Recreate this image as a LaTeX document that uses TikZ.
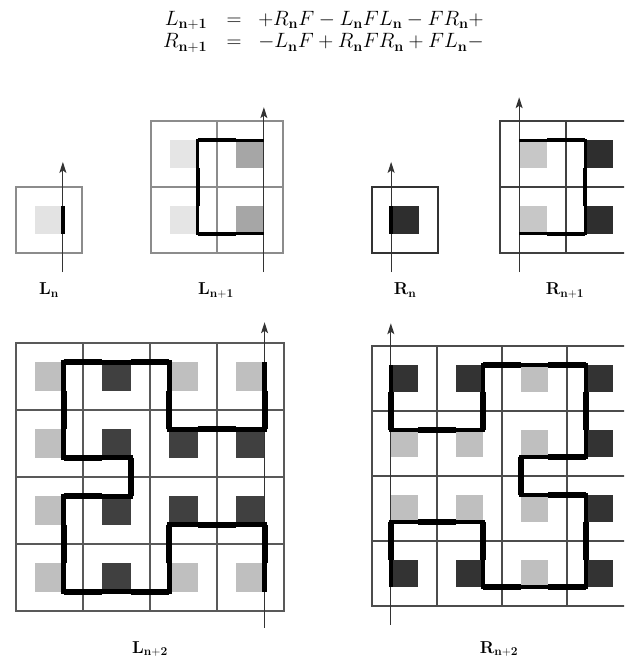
\documentclass[tikz,border=0pt]{standalone}
\usetikzlibrary{arrows.meta}
\tikzset{
  gridbox/.style={line width=1.1pt},
  dirarrow/.style={line width=1.1pt, draw=black!80, -{Stealth[length=11pt,width=7pt,inset=2.5pt]}},
  barln/.style={line width=4pt, line cap=butt},
  pthA/.style={line width=3pt, line join=miter, line cap=butt},
  pthAx/.style={line width=4.6pt, line cap=butt},
  pthB/.style={line width=4.6pt, line join=miter, line cap=butt},
  pthBx/.style={line width=6pt, line cap=butt},
  lbl/.style={font=\fontsize{17.28}{20}\selectfont, inner sep=0pt, anchor=base},
  eqn/.style={font=\fontsize{17.28}{16.7}\selectfont, inner sep=0pt, scale=1.2}
}
\newcommand\sqcell[3]{\fill[#3] ({#1+0.29},{#2+0.29}) rectangle ({#1+0.71},{#2+0.71});}
% one cell: #1 prefix, #2 square colour, #3 grid colour, #4 arrow top
\newcommand\diagOne[4]{%
  \sqcell{0}{0}{#2}
  \draw[gridbox,draw=#3] (0,0) rectangle (1,1);
  \coordinate (#1s) at (0.71,-0.29);
  \coordinate (#1e) at (0.71,#4);
  \draw[dirarrow] (#1s) -- (#1e);
  \draw[barln] (0.71,0.29) -- (0.71,0.71);
}
% two by two: #1 prefix, #2 colour col 0, #3 colour col 1, #4 grid colour, #5 arrow top
\newcommand\diagTwo[5]{%
  \sqcell{0}{0}{#2}\sqcell{0}{1}{#2}\sqcell{1}{0}{#3}\sqcell{1}{1}{#3}
  \draw[gridbox,draw=#4] (0,0) rectangle (2,2) (1,0) -- (1,2) (0,1) -- (2,1);
  \coordinate (#1s) at (1.71,-0.29);
  \coordinate (#1e) at (1.71,#5);
  \draw[dirarrow] (#1s) -- (#1e);
  \draw[pthA] (1.71,0.29) -- (0.71,0.29) -- (0.71,1.71) -- (1.71,1.71);
  \draw[pthAx] (0.71,0.29) -- (1.29,0.29) (0.71,0.71) -- (0.71,1.29) (0.71,1.71) -- (1.29,1.71);
}
% four by four: #1 prefix, #2 colour A, #3 colour B, #4 grid colour, #5 arrow bottom, #6 arrow top
\newcommand\diagFour[6]{%
  \sqcell{0}{0}{#2}\sqcell{1}{0}{#3}\sqcell{2}{0}{#2}\sqcell{3}{0}{#2}
  \sqcell{0}{1}{#2}\sqcell{1}{1}{#3}\sqcell{2}{1}{#3}\sqcell{3}{1}{#3}
  \sqcell{0}{2}{#2}\sqcell{1}{2}{#3}\sqcell{2}{2}{#3}\sqcell{3}{2}{#3}
  \sqcell{0}{3}{#2}\sqcell{1}{3}{#3}\sqcell{2}{3}{#2}\sqcell{3}{3}{#2}
  \draw[gridbox,draw=#4] (0,0) rectangle (4,4)
     (1,0) -- (1,4) (2,0) -- (2,4) (3,0) -- (3,4)
     (0,1) -- (4,1) (0,2) -- (4,2) (0,3) -- (4,3);
  \coordinate (#1s) at (3.71,#5);
  \coordinate (#1e) at (3.71,#6);
  \draw[dirarrow] (#1s) -- (#1e);
  \draw[pthB] (3.71,0.29) -- (3.71,1.29) -- (2.29,1.29) -- (2.29,0.29) -- (0.71,0.29)
     -- (0.71,1.71) -- (1.71,1.71) -- (1.71,2.29) -- (0.71,2.29) -- (0.71,3.71)
     -- (2.29,3.71) -- (2.29,2.71) -- (3.71,2.71) -- (3.71,3.71);
  \draw[pthBx] (3.71,0.71) -- (3.71,1.29) (2.71,1.29) -- (3.29,1.29)
     (2.29,0.71) -- (2.29,1.29) (1.71,0.29) -- (2.29,0.29) (0.71,0.29) -- (1.29,0.29)
     (0.71,0.71) -- (0.71,1.29) (0.71,1.71) -- (1.29,1.71) (1.71,1.71) -- (1.71,2.29)
     (0.71,2.29) -- (1.29,2.29) (0.71,2.71) -- (0.71,3.29) (0.71,3.71) -- (1.29,3.71)
     (1.71,3.71) -- (2.29,3.71) (2.29,2.71) -- (2.29,3.29) (2.71,2.71) -- (3.29,2.71)
     (3.71,2.71) -- (3.71,3.29);
}
\begin{document}
\begin{tikzpicture}[x=1pt,y=1pt]
\clip (0,0) rectangle (624,661);
\fill[white] (0,0) rectangle (624,661);

% equations
\node[eqn, anchor=north west] (eqs) at (163,650)
  {$\begin{array}{@{}r@{\hspace{16pt}}c@{\hspace{14pt}}l@{}}
    L_{\mathbf{n+1}} & = & +R_{\mathbf{n}}F-L_{\mathbf{n}}FL_{\mathbf{n}}-FR_{\mathbf{n}}+\\[2pt]
    R_{\mathbf{n+1}} & = & -L_{\mathbf{n}}F+R_{\mathbf{n}}FR_{\mathbf{n}}+FL_{\mathbf{n}}-
  \end{array}$};

% L_n
\begin{scope}[shift={(16,408)}, x=66pt, y=66pt]
  \diagOne{ln}{black!11}{black!45}{1.38}
\end{scope}
% L_{n+1}
\begin{scope}[shift={(151,408)}, x=66pt, y=66pt]
  \diagTwo{lnp}{black!10}{black!35}{black!45}{2.21}
\end{scope}
% R_n
\begin{scope}[shift={(438,408)}, x=-66pt, y=66pt]
  \diagOne{rn}{black!82}{black!80}{1.38}
\end{scope}
% R_{n+1}
\begin{scope}[shift={(632,408)}, x=-66pt, y=66pt]
  \diagTwo{rnp}{black!82}{black!22}{black!75}{2.36}
\end{scope}
% L_{n+2}
\begin{scope}[shift={(16,50)}, x=67pt, y=67pt]
  \diagFour{lnq}{black!25}{black!75}{black!65}{-0.25}{4.31}
\end{scope}
% R_{n+2}
\begin{scope}[shift={(632,55)}, x=-65pt, y=65pt]
  \diagFour{rnq}{black!80}{black!25}{black!70}{-0.29}{4.35}
\end{scope}

% labels
\node[lbl] (labLn) at (49,366) {$\mathbf{L}_{\mathbf{n}}$};
\node[lbl] (labLnp) at (216,366) {$\mathbf{L}_{\mathbf{n+1}}$};
\node[lbl] (labRn) at (405,366) {$\mathbf{R}_{\mathbf{n}}$};
\node[lbl] (labRnp) at (565,366) {$\mathbf{R}_{\mathbf{n+1}}$};
\node[lbl] (labLnq) at (150,8) {$\mathbf{L}_{\mathbf{n+2}}$};
\node[lbl] (labRnq) at (499,8) {$\mathbf{R}_{\mathbf{n+2}}$};
\end{tikzpicture}
\end{document}
